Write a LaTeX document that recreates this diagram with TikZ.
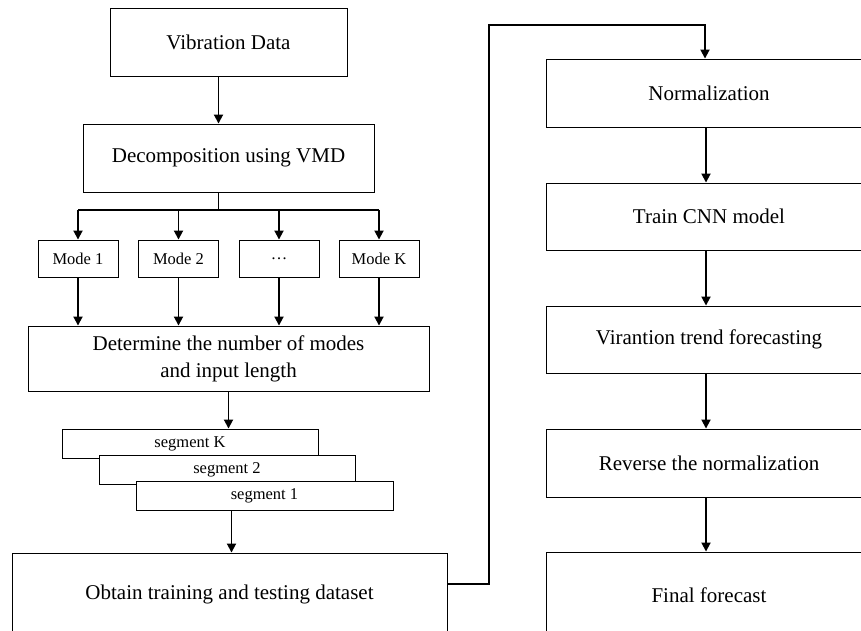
\documentclass[tikz,border=0pt]{standalone}
\usepackage{fontspec}
\setmainfont{Liberation Serif}
\usetikzlibrary{arrows.meta,calc}
\begin{document}
\begin{tikzpicture}[x=1pt,y=-1pt,
  box/.style={draw, line width=0.9pt, fill=white, inner sep=0pt, align=center, font=\fontsize{21}{27}\selectfont},
  small/.style={draw, line width=0.9pt, fill=white, inner sep=0pt, align=center, font=\fontsize{16.5}{20}\selectfont},
  arr/.style={line width=1.8pt, -{Triangle[length=9pt,width=9pt]}},
  bus/.style={line width=1.8pt}]
\clip (0,0) rectangle (861,631);
\fill[white] (0,0) rectangle (861,631);
% left column
\node[box, minimum width=237pt, minimum height=68pt] (vd) at (228.5,42) {Vibration Data};
\node[box, minimum width=291pt, minimum height=68pt] (dec) at (228.5,158) {Decomposition using VMD};
\node[small, minimum width=80pt, minimum height=37pt] (m1) at (78,258.5) {Mode 1};
\node[small, minimum width=80pt, minimum height=37pt] (m2) at (178.5,258.5) {Mode 2};
\node[small, minimum width=80pt, minimum height=37pt] (m3) at (279,258.5) {\ldots};
\node[small, minimum width=80pt, minimum height=37pt] (mk) at (379,258.5) {Mode K};
\node[box, minimum width=401pt, minimum height=65pt] (det) at (228.5,358.5) {Determine the number of modes\\and input length};
\node[small, minimum width=256pt, minimum height=29pt] (segk) at (190,443.5) {segment K};
\node[small, minimum width=256pt, minimum height=29pt] (seg2) at (227,469.5) {segment 2};
\node[small, minimum width=257pt, minimum height=29pt] (seg1) at (264.5,495.5) {segment 1};
\node[box, minimum width=435pt, minimum height=82pt] (obt) at (229.5,594) {Obtain training and testing dataset};
% right column
\node[box, minimum width=326pt, minimum height=68pt] (norm) at (709,93) {Normalization};
\node[box, minimum width=326pt, minimum height=67pt] (cnn) at (709,216.5) {Train CNN model};
\node[box, minimum width=326pt, minimum height=67pt] (vir) at (709,339.5) {Virantion trend forecasting};
\node[box, minimum width=326pt, minimum height=68pt] (rev) at (709,463) {Reverse the normalization};
\node[box, minimum width=326pt, minimum height=86pt] (fin) at (709,595) {Final forecast};
% connectors left
\draw[arr] ([xshift=-10pt]vd.south) -- ([xshift=-10pt]dec.north);
\coordinate (split) at (218.5,210);
\draw[bus] ([xshift=-10pt]dec.south) -- (split);
\draw[bus] (m1.north |- split) -- (mk.north |- split);
\draw[arr] (m1.north |- split) -- (m1.north);
\draw[arr] (m2.north |- split) -- (m2.north);
\draw[arr] (m3.north |- split) -- (m3.north);
\draw[arr] (mk.north |- split) -- (mk.north);
\draw[arr] (m1.south) -- (m1.south |- det.north);
\draw[arr] (m2.south) -- (m2.south |- det.north);
\draw[arr] (m3.south) -- (m3.south |- det.north);
\draw[arr] (mk.south) -- (mk.south |- det.north);
\draw[arr] (det.south) -- (det.south |- segk.north);
\draw[arr] ([xshift=-33pt]seg1.south) -- ([xshift=-33pt]seg1.south |- obt.north);
% cross connector
\coordinate (up) at (489,25);
\draw[arr] ([yshift=10pt]obt.east) -| (up) -| ([xshift=-4pt]norm.north);
% right connectors
\draw[arr] ([xshift=-3pt]norm.south) -- ([xshift=-3pt]cnn.north);
\draw[arr] ([xshift=-3pt]cnn.south) -- ([xshift=-3pt]vir.north);
\draw[arr] ([xshift=-3pt]vir.south) -- ([xshift=-3pt]rev.north);
\draw[arr] ([xshift=-3pt]rev.south) -- ([xshift=-3pt]fin.north);
\end{tikzpicture}
\end{document}
